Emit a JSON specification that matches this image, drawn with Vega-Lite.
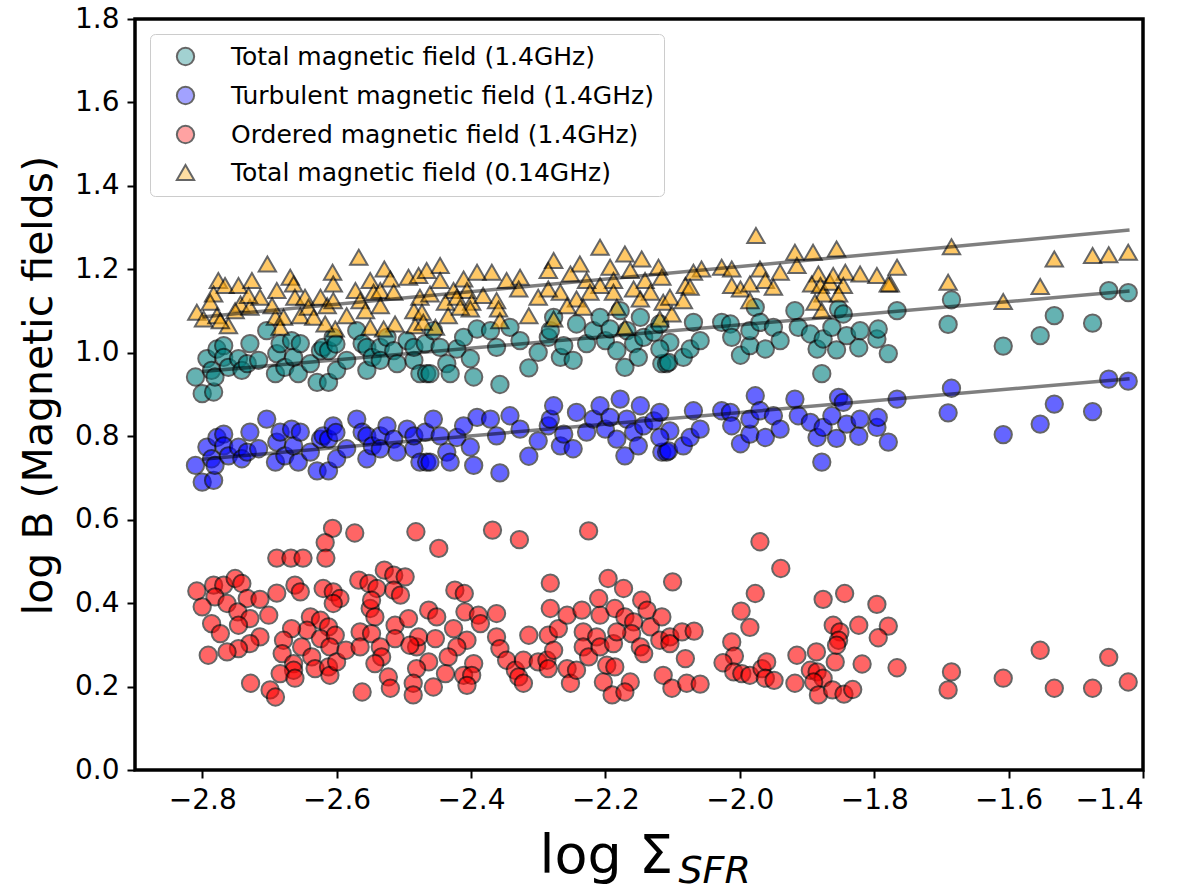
{
  "$schema": "https://vega.github.io/schema/vega-lite/v6.json",
  "width": 1008,
  "height": 751,
  "autosize": {"type": "none"},
  "padding": {"left": 135, "top": 19, "right": 57, "bottom": 125},
  "background": "white",
  "config": {
    "view": {"stroke": "black", "strokeWidth": 3.5},
    "font": "DejaVu Sans"
  },
  "layer": [
    {
      "data": {"values": [
        {"x":-2.810,"tot":0.942,"turb":0.730},{"x":-2.800,"tot":0.902,"turb":0.690},{"x":-2.783,"tot":0.906,"turb":0.694},{"x":-2.793,"tot":0.986,"turb":0.774},
        {"x":-2.786,"tot":0.958,"turb":0.746},{"x":-2.781,"tot":0.942,"turb":0.730},{"x":-2.778,"tot":1.009,"turb":0.797},{"x":-2.768,"tot":1.017,"turb":0.805},
        {"x":-2.768,"tot":0.989,"turb":0.777},{"x":-2.761,"tot":0.965,"turb":0.753},{"x":-2.746,"tot":0.986,"turb":0.774},{"x":-2.741,"tot":0.958,"turb":0.746},
        {"x":-2.733,"tot":0.974,"turb":0.762},{"x":-2.729,"tot":1.022,"turb":0.810},{"x":-2.716,"tot":0.982,"turb":0.770},{"x":-2.704,"tot":1.053,"turb":0.841},
        {"x":-2.691,"tot":0.950,"turb":0.738},{"x":-2.689,"tot":0.998,"turb":0.786},{"x":-2.684,"tot":1.022,"turb":0.810},{"x":-2.677,"tot":0.965,"turb":0.753},
        {"x":-2.667,"tot":1.029,"turb":0.817},{"x":-2.664,"tot":0.989,"turb":0.777},{"x":-2.657,"tot":0.950,"turb":0.738},{"x":-2.654,"tot":1.022,"turb":0.810},
        {"x":-2.639,"tot":0.974,"turb":0.762},{"x":-2.629,"tot":0.929,"turb":0.717},{"x":-2.624,"tot":1.005,"turb":0.793},{"x":-2.620,"tot":1.013,"turb":0.801},
        {"x":-2.612,"tot":0.929,"turb":0.717},{"x":-2.612,"tot":1.005,"turb":0.793},{"x":-2.605,"tot":1.037,"turb":0.825},{"x":-2.601,"tot":1.021,"turb":0.809},
        {"x":-2.600,"tot":0.958,"turb":0.746},{"x":-2.585,"tot":0.982,"turb":0.770},{"x":-2.570,"tot":1.053,"turb":0.841},{"x":-2.562,"tot":1.022,"turb":0.810},
        {"x":-2.555,"tot":0.958,"turb":0.746},{"x":-2.555,"tot":1.013,"turb":0.801},{"x":-2.547,"tot":0.989,"turb":0.777},{"x":-2.535,"tot":1.013,"turb":0.801},
        {"x":-2.535,"tot":0.982,"turb":0.770},{"x":-2.525,"tot":1.037,"turb":0.825},{"x":-2.515,"tot":1.005,"turb":0.793},{"x":-2.510,"tot":0.974,"turb":0.762},
        {"x":-2.495,"tot":1.029,"turb":0.817},{"x":-2.485,"tot":0.982,"turb":0.770},{"x":-2.485,"tot":1.013,"turb":0.801},{"x":-2.476,"tot":0.950,"turb":0.738},
        {"x":-2.468,"tot":1.022,"turb":0.810},{"x":-2.466,"tot":0.950,"turb":0.738},{"x":-2.461,"tot":0.950,"turb":0.738},{"x":-2.456,"tot":1.053,"turb":0.841},
        {"x":-2.446,"tot":1.013,"turb":0.801},{"x":-2.436,"tot":0.974,"turb":0.762},{"x":-2.431,"tot":0.950,"turb":0.738},{"x":-2.421,"tot":1.009,"turb":0.797},
        {"x":-2.411,"tot":1.037,"turb":0.825},{"x":-2.401,"tot":0.986,"turb":0.774},{"x":-2.396,"tot":0.942,"turb":0.730},{"x":-2.391,"tot":1.057,"turb":0.845},
        {"x":-2.371,"tot":1.053,"turb":0.841},{"x":-2.362,"tot":1.013,"turb":0.801},{"x":-2.357,"tot":0.924,"turb":0.712},{"x":-2.342,"tot":1.061,"turb":0.849},
        {"x":-2.327,"tot":1.029,"turb":0.817},{"x":-2.314,"tot":0.964,"turb":0.752},{"x":-2.300,"tot":1.001,"turb":0.789},{"x":-2.285,"tot":1.037,"turb":0.825},
        {"x":-2.282,"tot":1.053,"turb":0.841},{"x":-2.277,"tot":1.085,"turb":0.873},{"x":-2.267,"tot":0.989,"turb":0.777},{"x":-2.262,"tot":1.017,"turb":0.805},
        {"x":-2.248,"tot":0.982,"turb":0.770},{"x":-2.243,"tot":1.069,"turb":0.857},{"x":-2.228,"tot":1.022,"turb":0.810},{"x":-2.218,"tot":1.053,"turb":0.841},
        {"x":-2.208,"tot":1.085,"turb":0.873},{"x":-2.200,"tot":1.029,"turb":0.817},{"x":-2.193,"tot":1.057,"turb":0.845},{"x":-2.183,"tot":1.005,"turb":0.793},
        {"x":-2.178,"tot":1.101,"turb":0.889},{"x":-2.171,"tot":0.965,"turb":0.753},{"x":-2.168,"tot":1.053,"turb":0.841},{"x":-2.158,"tot":1.022,"turb":0.810},
        {"x":-2.151,"tot":0.989,"turb":0.777},{"x":-2.148,"tot":1.085,"turb":0.873},{"x":-2.143,"tot":1.037,"turb":0.825},{"x":-2.128,"tot":1.049,"turb":0.837},
        {"x":-2.119,"tot":1.069,"turb":0.857},{"x":-2.116,"tot":0.974,"turb":0.762},{"x":-2.109,"tot":0.974,"turb":0.762},{"x":-2.106,"tot":0.977,"turb":0.765},
        {"x":-2.104,"tot":1.025,"turb":0.813},{"x":-2.119,"tot":1.009,"turb":0.797},{"x":-2.084,"tot":0.989,"turb":0.777},{"x":-2.074,"tot":1.009,"turb":0.797},
        {"x":-2.069,"tot":1.073,"turb":0.861},{"x":-2.059,"tot":1.029,"turb":0.817},{"x":-2.027,"tot":1.073,"turb":0.861},{"x":-2.014,"tot":1.069,"turb":0.857},
        {"x":-2.012,"tot":1.037,"turb":0.825},{"x":-1.999,"tot":0.994,"turb":0.782},{"x":-1.985,"tot":1.017,"turb":0.805},{"x":-1.985,"tot":1.053,"turb":0.841},
        {"x":-1.977,"tot":1.109,"turb":0.897},{"x":-1.970,"tot":1.073,"turb":0.861},{"x":-1.962,"tot":1.009,"turb":0.797},{"x":-1.950,"tot":1.061,"turb":0.849},
        {"x":-1.940,"tot":1.029,"turb":0.817},{"x":-1.918,"tot":1.101,"turb":0.889},{"x":-1.913,"tot":1.061,"turb":0.849},{"x":-1.895,"tot":1.045,"turb":0.833},
        {"x":-1.885,"tot":1.009,"turb":0.797},{"x":-1.878,"tot":0.950,"turb":0.738},{"x":-1.876,"tot":1.033,"turb":0.821},{"x":-1.863,"tot":1.061,"turb":0.849},
        {"x":-1.856,"tot":1.007,"turb":0.795},{"x":-1.853,"tot":1.105,"turb":0.893},{"x":-1.846,"tot":1.093,"turb":0.881},{"x":-1.841,"tot":1.041,"turb":0.829},
        {"x":-1.823,"tot":1.012,"turb":0.800},{"x":-1.821,"tot":1.053,"turb":0.841},{"x":-1.796,"tot":1.033,"turb":0.821},{"x":-1.794,"tot":1.057,"turb":0.845},
        {"x":-1.779,"tot":0.998,"turb":0.786},{"x":-1.766,"tot":1.101,"turb":0.889},{"x":-1.685,"tot":1.127,"turb":0.915},{"x":-1.690,"tot":1.068,"turb":0.856},
        {"x":-1.608,"tot":1.016,"turb":0.804},{"x":-1.553,"tot":1.041,"turb":0.829},{"x":-1.532,"tot":1.089,"turb":0.877},{"x":-1.475,"tot":1.071,"turb":0.859},
        {"x":-1.451,"tot":1.149,"turb":0.937},{"x":-1.422,"tot":1.144,"turb":0.932},

        {"x":-2.606,"ord":0.579},{"x":-2.573,"ord":0.568},{"x":-2.482,"ord":0.571},{"x":-2.617,"ord":0.545},{"x":-2.689,"ord":0.508},{"x":-2.668,"ord":0.508},
        {"x":-2.650,"ord":0.508},{"x":-2.616,"ord":0.508},{"x":-2.448,"ord":0.531},{"x":-2.808,"ord":0.429},{"x":-2.783,"ord":0.443},{"x":-2.768,"ord":0.443},
        {"x":-2.751,"ord":0.459},{"x":-2.741,"ord":0.447},{"x":-2.781,"ord":0.415},{"x":-2.763,"ord":0.399},{"x":-2.800,"ord":0.391},{"x":-2.733,"ord":0.411},
        {"x":-2.714,"ord":0.409},{"x":-2.689,"ord":0.424},{"x":-2.662,"ord":0.443},{"x":-2.654,"ord":0.427},{"x":-2.747,"ord":0.379},{"x":-2.729,"ord":0.363},
        {"x":-2.701,"ord":0.371},{"x":-2.786,"ord":0.351},{"x":-2.773,"ord":0.327},{"x":-2.746,"ord":0.347},{"x":-2.714,"ord":0.319},{"x":-2.729,"ord":0.303},
        {"x":-2.746,"ord":0.291},{"x":-2.763,"ord":0.283},{"x":-2.791,"ord":0.275},{"x":-2.728,"ord":0.208},{"x":-2.699,"ord":0.192},{"x":-2.691,"ord":0.175},
        {"x":-2.620,"ord":0.435},{"x":-2.605,"ord":0.427},{"x":-2.595,"ord":0.411},{"x":-2.605,"ord":0.399},{"x":-2.639,"ord":0.367},{"x":-2.624,"ord":0.359},
        {"x":-2.612,"ord":0.343},{"x":-2.644,"ord":0.335},{"x":-2.667,"ord":0.339},{"x":-2.679,"ord":0.311},{"x":-2.624,"ord":0.315},{"x":-2.602,"ord":0.323},
        {"x":-2.652,"ord":0.295},{"x":-2.681,"ord":0.279},{"x":-2.664,"ord":0.255},{"x":-2.664,"ord":0.239},{"x":-2.637,"ord":0.271},{"x":-2.684,"ord":0.231},
        {"x":-2.662,"ord":0.220},{"x":-2.632,"ord":0.243},{"x":-2.610,"ord":0.295},{"x":-2.612,"ord":0.247},{"x":-2.610,"ord":0.227},{"x":-2.600,"ord":0.259},
        {"x":-2.586,"ord":0.287},{"x":-2.567,"ord":0.455},{"x":-2.552,"ord":0.447},{"x":-2.540,"ord":0.435},{"x":-2.529,"ord":0.479},{"x":-2.515,"ord":0.467},
        {"x":-2.498,"ord":0.463},{"x":-2.515,"ord":0.431},{"x":-2.505,"ord":0.419},{"x":-2.550,"ord":0.387},{"x":-2.543,"ord":0.367},{"x":-2.548,"ord":0.407},
        {"x":-2.565,"ord":0.331},{"x":-2.548,"ord":0.327},{"x":-2.535,"ord":0.295},{"x":-2.533,"ord":0.271},{"x":-2.543,"ord":0.255},{"x":-2.565,"ord":0.295},
        {"x":-2.562,"ord":0.187},{"x":-2.523,"ord":0.223},{"x":-2.520,"ord":0.196},{"x":-2.513,"ord":0.347},{"x":-2.513,"ord":0.315},{"x":-2.493,"ord":0.363},
        {"x":-2.481,"ord":0.295},{"x":-2.478,"ord":0.319},{"x":-2.463,"ord":0.383},{"x":-2.451,"ord":0.367},{"x":-2.463,"ord":0.259},{"x":-2.481,"ord":0.243},
        {"x":-2.486,"ord":0.208},{"x":-2.486,"ord":0.180},{"x":-2.456,"ord":0.199},{"x":-2.491,"ord":0.299},
        {"x":-2.368,"ord":0.575},{"x":-2.328,"ord":0.552},{"x":-2.225,"ord":0.573},{"x":-2.282,"ord":0.448},{"x":-2.196,"ord":0.459},{"x":-2.173,"ord":0.435},
        {"x":-2.100,"ord":0.451},{"x":-2.424,"ord":0.431},{"x":-2.410,"ord":0.423},{"x":-2.409,"ord":0.379},{"x":-2.389,"ord":0.371},{"x":-2.386,"ord":0.351},
        {"x":-2.362,"ord":0.375},{"x":-2.426,"ord":0.339},{"x":-2.406,"ord":0.311},{"x":-2.453,"ord":0.315},{"x":-2.421,"ord":0.295},{"x":-2.434,"ord":0.271},
        {"x":-2.396,"ord":0.255},{"x":-2.438,"ord":0.231},{"x":-2.411,"ord":0.227},{"x":-2.399,"ord":0.227},{"x":-2.406,"ord":0.203},{"x":-2.362,"ord":0.319},
        {"x":-2.357,"ord":0.291},{"x":-2.347,"ord":0.263},{"x":-2.334,"ord":0.239},{"x":-2.329,"ord":0.223},{"x":-2.322,"ord":0.208},{"x":-2.322,"ord":0.263},
        {"x":-2.314,"ord":0.323},{"x":-2.300,"ord":0.259},{"x":-2.287,"ord":0.263},{"x":-2.285,"ord":0.243},{"x":-2.282,"ord":0.387},{"x":-2.285,"ord":0.323},
        {"x":-2.270,"ord":0.339},{"x":-2.257,"ord":0.371},{"x":-2.277,"ord":0.287},{"x":-2.257,"ord":0.243},{"x":-2.252,"ord":0.208},{"x":-2.243,"ord":0.239},
        {"x":-2.235,"ord":0.383},{"x":-2.233,"ord":0.331},{"x":-2.233,"ord":0.295},{"x":-2.225,"ord":0.271},{"x":-2.213,"ord":0.319},{"x":-2.208,"ord":0.295},
        {"x":-2.208,"ord":0.371},{"x":-2.210,"ord":0.411},{"x":-2.188,"ord":0.303},{"x":-2.198,"ord":0.251},{"x":-2.186,"ord":0.247},{"x":-2.203,"ord":0.211},
        {"x":-2.190,"ord":0.180},{"x":-2.186,"ord":0.387},{"x":-2.171,"ord":0.367},{"x":-2.158,"ord":0.355},{"x":-2.161,"ord":0.327},{"x":-2.183,"ord":0.331},
        {"x":-2.163,"ord":0.211},{"x":-2.171,"ord":0.187},{"x":-2.146,"ord":0.407},{"x":-2.138,"ord":0.383},{"x":-2.133,"ord":0.343},{"x":-2.148,"ord":0.295},
        {"x":-2.143,"ord":0.279},{"x":-2.116,"ord":0.367},{"x":-2.119,"ord":0.311},{"x":-2.104,"ord":0.319},{"x":-2.104,"ord":0.303},{"x":-2.086,"ord":0.331},
        {"x":-2.081,"ord":0.267},{"x":-2.114,"ord":0.227},{"x":-2.101,"ord":0.196},{"x":-2.079,"ord":0.208},
        {"x":-1.970,"ord":0.547},{"x":-1.939,"ord":0.483},{"x":-1.977,"ord":0.423},{"x":-1.998,"ord":0.381},{"x":-1.985,"ord":0.342},{"x":-2.068,"ord":0.333},
        {"x":-2.012,"ord":0.307},{"x":-2.008,"ord":0.273},{"x":-2.025,"ord":0.257},{"x":-2.009,"ord":0.235},{"x":-1.997,"ord":0.231},{"x":-1.985,"ord":0.227},
        {"x":-1.967,"ord":0.243},{"x":-1.960,"ord":0.259},{"x":-1.962,"ord":0.220},{"x":-1.949,"ord":0.215},{"x":-2.059,"ord":0.206},{"x":-1.918,"ord":0.208},
        {"x":-1.915,"ord":0.275},{"x":-1.886,"ord":0.283},{"x":-1.895,"ord":0.239},{"x":-1.885,"ord":0.235},{"x":-1.876,"ord":0.220},{"x":-1.890,"ord":0.211},
        {"x":-1.883,"ord":0.180},{"x":-1.862,"ord":0.192},{"x":-1.845,"ord":0.182},{"x":-1.832,"ord":0.193},{"x":-1.858,"ord":0.259},{"x":-1.876,"ord":0.409},
        {"x":-1.844,"ord":0.423},{"x":-1.861,"ord":0.347},{"x":-1.851,"ord":0.331},{"x":-1.853,"ord":0.311},{"x":-1.856,"ord":0.299},{"x":-1.823,"ord":0.347},
        {"x":-1.796,"ord":0.397},{"x":-1.779,"ord":0.345},{"x":-1.794,"ord":0.317},{"x":-1.818,"ord":0.254},{"x":-1.766,"ord":0.245},
        {"x":-1.690,"ord":0.192},{"x":-1.685,"ord":0.235},{"x":-1.608,"ord":0.220},{"x":-1.553,"ord":0.287},{"x":-1.532,"ord":0.196},{"x":-1.475,"ord":0.196},
        {"x":-1.451,"ord":0.270},{"x":-1.422,"ord":0.211},

        {"x":-2.703,"low":1.213},{"x":-2.567,"low":1.229},{"x":-2.529,"low":1.201},{"x":-2.606,"low":1.193},{"x":-2.669,"low":1.181},{"x":-2.776,"low":1.173},
        {"x":-2.766,"low":1.161},{"x":-2.746,"low":1.161},{"x":-2.726,"low":1.173},{"x":-2.783,"low":1.141},{"x":-2.788,"low":1.121},{"x":-2.808,"low":1.097},
        {"x":-2.798,"low":1.081},{"x":-2.778,"low":1.089},{"x":-2.761,"low":1.065},{"x":-2.773,"low":1.077},{"x":-2.743,"low":1.117},{"x":-2.751,"low":1.101},
        {"x":-2.729,"low":1.109},{"x":-2.714,"low":1.133},{"x":-2.731,"low":1.137},{"x":-2.689,"low":1.149},{"x":-2.691,"low":1.085},{"x":-2.696,"low":1.113},
        {"x":-2.679,"low":1.085},{"x":-2.684,"low":1.061},{"x":-2.664,"low":1.165},{"x":-2.662,"low":1.133},{"x":-2.654,"low":1.089},{"x":-2.647,"low":1.133},
        {"x":-2.642,"low":1.109},{"x":-2.634,"low":1.085},{"x":-2.624,"low":1.133},{"x":-2.614,"low":1.113},{"x":-2.605,"low":1.125},{"x":-2.605,"low":1.165},
        {"x":-2.602,"low":1.057},{"x":-2.617,"low":1.069},{"x":-2.585,"low":1.089},{"x":-2.572,"low":1.149},{"x":-2.565,"low":1.125},{"x":-2.557,"low":1.101},
        {"x":-2.550,"low":1.173},{"x":-2.545,"low":1.145},{"x":-2.550,"low":1.061},{"x":-2.535,"low":1.149},{"x":-2.535,"low":1.113},{"x":-2.520,"low":1.177},
        {"x":-2.513,"low":1.069},{"x":-2.515,"low":1.145},{"x":-2.530,"low":1.057},{"x":-2.493,"low":1.181},{"x":-2.485,"low":1.101},{"x":-2.483,"low":1.065},
        {"x":-2.476,"low":1.133},{"x":-2.478,"low":1.185},
        {"x":-2.208,"low":1.253},{"x":-2.171,"low":1.237},{"x":-2.146,"low":1.225},{"x":-2.277,"low":1.221},{"x":-2.238,"low":1.213},{"x":-2.285,"low":1.197},
        {"x":-2.252,"low":1.189},{"x":-2.121,"low":1.205},{"x":-2.116,"low":1.181},{"x":-2.193,"low":1.205},{"x":-2.188,"low":1.173},{"x":-2.163,"low":1.197},
        {"x":-2.141,"low":1.173},{"x":-2.208,"low":1.161},{"x":-2.228,"low":1.173},{"x":-2.223,"low":1.145},{"x":-2.188,"low":1.145},{"x":-2.158,"low":1.153},
        {"x":-2.133,"low":1.145},{"x":-2.243,"low":1.129},{"x":-2.267,"low":1.145},{"x":-2.285,"low":1.153},{"x":-2.257,"low":1.113},{"x":-2.233,"low":1.109},
        {"x":-2.183,"low":1.109},{"x":-2.148,"low":1.129},{"x":-2.114,"low":1.121},{"x":-2.277,"low":1.081},{"x":-2.171,"low":1.061},{"x":-2.119,"low":1.081},
        {"x":-2.300,"low":1.133},{"x":-2.314,"low":1.089},{"x":-2.327,"low":1.181},{"x":-2.329,"low":1.153},{"x":-2.347,"low":1.173},{"x":-2.369,"low":1.193},
        {"x":-2.391,"low":1.193},{"x":-2.411,"low":1.177},{"x":-2.446,"low":1.209},{"x":-2.466,"low":1.197},{"x":-2.446,"low":1.173},{"x":-2.426,"low":1.149},
        {"x":-2.406,"low":1.149},{"x":-2.461,"low":1.141},{"x":-2.438,"low":1.121},{"x":-2.421,"low":1.133},{"x":-2.399,"low":1.121},{"x":-2.382,"low":1.137},
        {"x":-2.362,"low":1.125},{"x":-2.401,"low":1.105},{"x":-2.416,"low":1.109},{"x":-2.359,"low":1.105},{"x":-2.434,"low":1.089},{"x":-2.357,"low":1.077},
        {"x":-2.473,"low":1.097},{"x":-2.453,"low":1.061},{"x":-2.471,"low":1.073},
        {"x":-1.976,"low":1.281},{"x":-1.918,"low":1.241},{"x":-1.891,"low":1.241},{"x":-1.856,"low":1.249},{"x":-1.915,"low":1.209},{"x":-2.027,"low":1.205},
        {"x":-2.012,"low":1.201},{"x":-1.970,"low":1.201},{"x":-2.057,"low":1.201},{"x":-2.069,"low":1.193},{"x":-1.940,"low":1.193},{"x":-1.883,"low":1.189},
        {"x":-1.843,"low":1.193},{"x":-1.821,"low":1.189},{"x":-1.796,"low":1.185},{"x":-1.766,"low":1.205},{"x":-1.776,"low":1.165},{"x":-2.081,"low":1.161},
        {"x":-2.074,"low":1.157},{"x":-2.012,"low":1.161},{"x":-1.999,"low":1.153},{"x":-1.985,"low":1.165},{"x":-1.962,"low":1.173},{"x":-1.950,"low":1.157},
        {"x":-1.893,"low":1.165},{"x":-1.880,"low":1.161},{"x":-1.866,"low":1.169},{"x":-1.861,"low":1.185},{"x":-1.846,"low":1.161},{"x":-1.853,"low":1.141},
        {"x":-2.104,"low":1.133},{"x":-2.084,"low":1.125},{"x":-2.101,"low":1.093},{"x":-1.985,"low":1.125},{"x":-1.876,"low":1.141},{"x":-1.888,"low":1.121},
        {"x":-1.878,"low":1.101},
        {"x":-1.685,"low":1.254},{"x":-1.690,"low":1.169},{"x":-1.608,"low":1.123},{"x":-1.553,"low":1.159},{"x":-1.532,"low":1.225},{"x":-1.475,"low":1.233},
        {"x":-1.451,"low":1.235},{"x":-1.422,"low":1.241},{"x":-1.779,"low":1.165}
      ]},
      "transform": [
        {"fold": ["tot", "turb", "ord", "low"], "as": ["s", "y"]},
        {"filter": "isValid(datum.y)"}
      ],
      "mark": {"type": "point", "filled": true, "stroke": "black", "strokeWidth": 2, "opacity": 0.6},
      "encoding": {
        "x": {
          "field": "x", "type": "quantitative",
          "scale": {"domain": [-2.9, -1.4], "nice": false, "zero": false},
          "axis": {
            "domain": false, "grid": false,
            "tickColor": "black", "tickWidth": 2, "tickSize": 8,
            "values": [-2.8, -2.6, -2.4, -2.2, -2.0, -1.8, -1.6, -1.4],
            "labelExpr": "replace(format(datum.value, '.1f'), '-', '−')",
            "labelFont": "DejaVu Sans", "labelFontSize": 28, "labelColor": "black",
            "labelPadding": 8,
            "title": "log Σ", "titleFont": "DejaVu Sans", "titleFontSize": 54,
            "titleFontWeight": "normal", "titleColor": "black",
            "titleAlign": "left", "titleBaseline": "alphabetic",
            "titleX": 404, "titleY": 102
          }
        },
        "y": {
          "field": "y", "type": "quantitative",
          "scale": {"domain": [0, 1.8], "nice": false},
          "axis": {
            "domain": false, "grid": false,
            "tickColor": "black", "tickWidth": 2, "tickSize": 8,
            "values": [0, 0.2, 0.4, 0.6, 0.8, 1.0, 1.2, 1.4, 1.6, 1.8],
            "format": ".1f",
            "labelFont": "DejaVu Sans", "labelFontSize": 28, "labelColor": "black",
            "labelPadding": 8,
            "title": "log B (Magnetic fields)", "titleFont": "DejaVu Sans", "titleFontSize": 41,
            "titleFontWeight": "normal", "titleColor": "black",
            "titleAngle": -90, "titleAlign": "center", "titleBaseline": "alphabetic",
            "titleX": -84, "titleY": 366
          }
        },
        "color": {
          "field": "s", "type": "nominal",
          "scale": {"domain": ["tot", "turb", "ord", "low"], "range": ["#008080", "#0000ff", "#ff0000", "#ffa500"]},
          "legend": {
            "title": null, "orient": "top-left", "offset": 15,
            "labelExpr": "datum.value == 'tot' ? 'Total magnetic field (1.4GHz)' : datum.value == 'turb' ? 'Turbulent magnetic field (1.4GHz)' : datum.value == 'ord' ? 'Ordered magnetic field (1.4GHz)' : 'Total magnetic field (0.14GHz)'",
            "labelFont": "DejaVu Sans", "labelFontSize": 25, "labelColor": "black", "labelLimit": 700,
            "fillColor": "white", "strokeColor": "#cccccc", "cornerRadius": 5,
            "padding": 10, "rowPadding": 12, "symbolOffset": 13, "labelOffset": 33,
            "symbolStrokeColor": "black", "symbolStrokeWidth": 2, "symbolOpacity": 0.6
          }
        },
        "shape": {
          "field": "s", "type": "nominal",
          "scale": {"domain": ["tot", "turb", "ord", "low"], "range": ["circle", "circle", "circle", "triangle-up"]}
        },
        "size": {
          "field": "s", "type": "nominal",
          "scale": {"domain": ["tot", "turb", "ord", "low"], "range": [300, 300, 300, 360]}
        }
      }
    },
    {
      "data": {"values": [
        {"line": "a", "x": -2.8, "y": 1.086}, {"line": "a", "x": -1.42, "y": 1.294},
        {"line": "b", "x": -2.8, "y": 0.955}, {"line": "b", "x": -1.42, "y": 1.148},
        {"line": "c", "x": -2.8, "y": 0.745}, {"line": "c", "x": -1.42, "y": 0.938}
      ]},
      "mark": {"type": "line", "color": "black", "opacity": 0.5, "strokeWidth": 3.5},
      "encoding": {
        "x": {
          "field": "x", "type": "quantitative",
          "axis": {
            "orient": "top", "labels": false, "ticks": false, "domain": false, "grid": false,
            "title": "SFR", "titleFont": "DejaVu Sans", "titleFontSize": 38, "titleFontStyle": "italic",
            "titleFontWeight": "normal", "titleColor": "black",
            "titleAlign": "left", "titleBaseline": "alphabetic",
            "titleX": 543, "titleY": 863
          }
        },
        "y": {"field": "y", "type": "quantitative"},
        "detail": {"field": "line", "type": "nominal"}
      }
    }
  ],
  "resolve": {"axis": {"x": "independent"}}
}
